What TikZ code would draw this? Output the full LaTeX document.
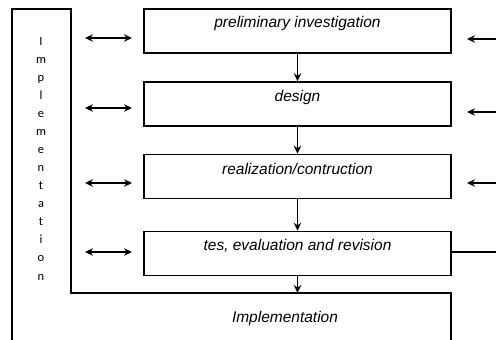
\documentclass[tikz,border=0pt]{standalone}
\usepackage{fontspec}
\setmainfont{Liberation Sans}
\newfontfamily\vfont{Carlito}
\usetikzlibrary{arrows.meta,calc}
\tikzset{
  stagebox/.style={draw, line width=1.5pt, minimum width=307pt, minimum height=44pt, inner sep=0pt},
  stagetext/.style={anchor=base, font=\fontsize{15.5}{18}\selectfont\itshape, inner sep=0pt},
  vletter/.style={anchor=base, font=\vfont\fontsize{12.5}{14}\selectfont, inner sep=0pt},
  conn/.style={line width=1.6pt},
  arr/.style={conn, -{Stealth[length=8pt,width=7.5pt]}},
  darr/.style={conn, {Stealth[length=8pt,width=7.5pt]}-{Stealth[length=8pt,width=7.5pt]}},
  frame/.style={line width=1.5pt}
}
\begin{document}
\begin{tikzpicture}[x=1pt,y=-1pt]
\useasboundingbox (0,0) rectangle (496,340);
% outer implementation frame
\draw[frame] (12,340) -- (12,9) -- (71,9) -- (71,293) -- (451,293) -- (451,340);
\coordinate (hl) at (297.5,293);
% stage boxes
\node[stagebox] (b1) at (297.5,31) {};
\node[stagebox] (b2) at (297.5,104) {};
\node[stagebox] (b3) at (297.5,176.5) {};
\node[stagebox] (b4) at (297.5,253.5) {};
\node[stagetext] (t1) at ($(b1.north)+(0,19.5)$) {preliminary investigation};
\node[stagetext] (t2) at ($(b2.north)+(0,20)$) {design};
\node[stagetext] (t3) at ($(b3.north)+(0,21)$) {realization/contruction};
\node[stagetext] (t4) at ($(b4.north)+(0,20)$) {tes, evaluation and revision};
\node[stagetext] (t5) at (285,322) {Implementation};
% vertical label
\foreach \c [count=\i] in {I,m,p,l,e,m,e,n,t,a,t,i,o,n}
  \node[vletter] (v\i) at (41,{45.5+18.04*(\i-1)}) {\c};
% down arrows
\draw[arr] (b1.south) -- (b2.north);
\draw[arr] (b2.south) -- (b3.north);
\draw[arr] (b3.south) -- (b4.north);
\draw[arr] (b4.south) -- (hl);
% left double arrows
\coordinate (la1) at (85,38);  \coordinate (lb1) at (132,38);
\coordinate (la2) at (85,108); \coordinate (lb2) at (132,108);
\coordinate (la3) at (85,183); \coordinate (lb3) at (132,183);
\coordinate (la4) at (85,252); \coordinate (lb4) at (132,252);
\draw[darr] (la1) -- (lb1);
\draw[darr] (la2) -- (lb2);
\draw[darr] (la3) -- (lb3);
\draw[darr] (la4) -- (lb4);
% right arrows
\coordinate (ra1) at (497,39);  \coordinate (rb1) at (467,39);
\coordinate (ra2) at (497,112); \coordinate (rb2) at (467,112);
\coordinate (ra3) at (497,183); \coordinate (rb3) at (467,183);
\coordinate (re4) at (497,252);
\draw[arr] (ra1) -- (rb1);
\draw[arr] (ra2) -- (rb2);
\draw[arr] (ra3) -- (rb3);
\draw[conn] (b4.east |- re4) -- (re4);
\end{tikzpicture}
\end{document}
